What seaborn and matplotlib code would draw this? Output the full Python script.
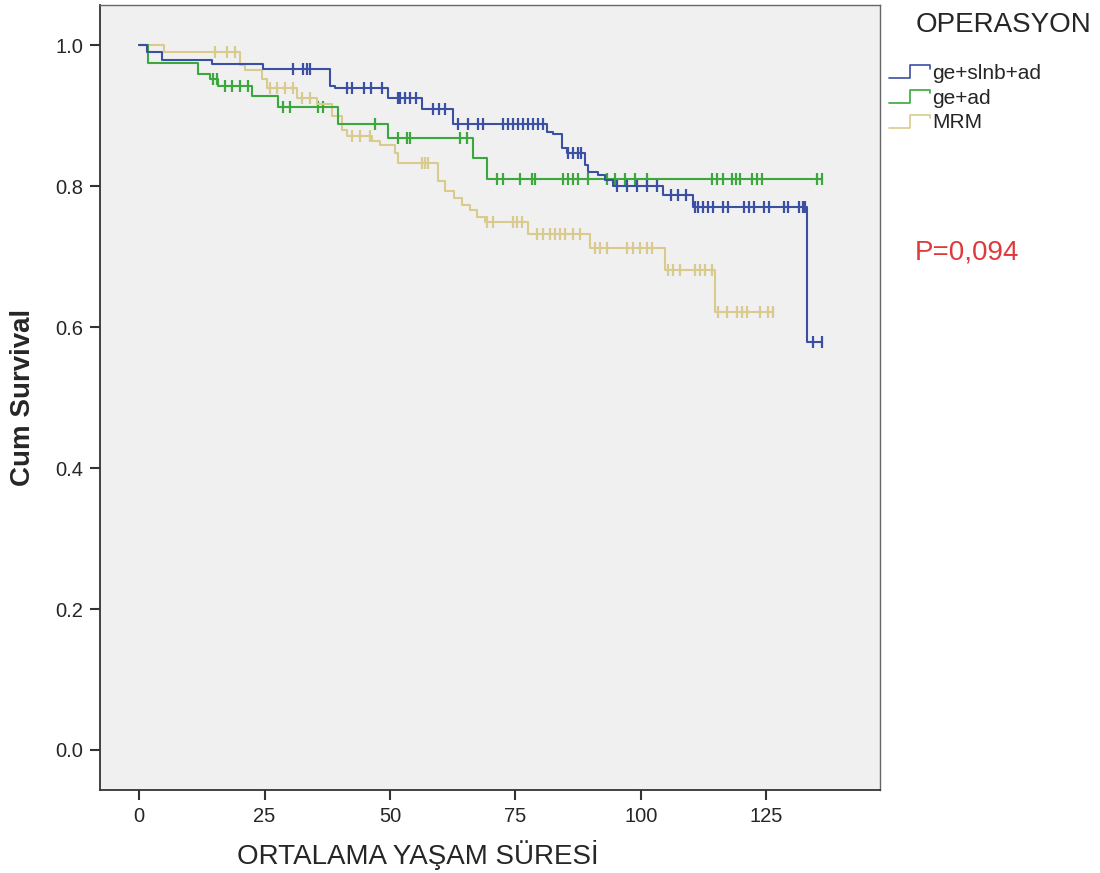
import numpy as np
import pandas as pd
import matplotlib
matplotlib.use("Agg")
import matplotlib.pyplot as plt
from matplotlib.lines import Line2D
from matplotlib.legend_handler import HandlerBase
import seaborn as sns

# step curves (time of drop, survival after drop) and censored times
groups = ["ge+slnb+ad", "ge+ad", "MRM"]

blue_t = [1.6, 4.6, 14.6, 24.7, 38.1, 39.1, 49.6, 56.4, 62.6, 81.3, 82.5, 84.3, 85.3, 88.9, 89.5, 91.5, 92.9, 94.5, 104.5, 110.4, 133.2]
blue_s = [0.99, 0.979, 0.973, 0.967, 0.943, 0.939, 0.925, 0.91, 0.889, 0.877, 0.874, 0.854, 0.847, 0.83, 0.82, 0.816, 0.809, 0.801, 0.787, 0.77, 0.579]
blue_c = [30.7, 32.7, 33.5, 34.0, 41.5, 42.5, 44.8, 46.2, 48.4, 51.5, 51.9, 53.0, 54.0, 55.2, 58.6, 59.8, 61.0, 63.5, 65.5, 67.5, 68.5,
          72.6, 73.6, 74.6, 75.6, 76.6, 77.6, 78.5, 79.6, 80.5, 85.5, 86.5, 87.5, 88.0, 95.3, 97.3, 99.3, 101.3, 103.3,
          106.0, 107.5, 109.0, 110.8, 111.4, 112.4, 113.4, 114.4, 116.3, 117.4, 120.5, 121.5, 122.5, 124.5, 125.5, 128.5, 129.3,
          131.5, 132.3, 132.8, 134.4, 136.2]

green_t = [1.8, 11.8, 14.2, 15.7, 22.5, 27.7, 39.7, 49.6, 66.6, 69.4]
green_s = [0.975, 0.959, 0.953, 0.943, 0.928, 0.912, 0.888, 0.868, 0.84, 0.811]
green_c = [14.8, 15.5, 17.1, 18.5, 20.1, 21.7, 28.7, 30.1, 35.7, 36.7, 47.0, 51.6, 53.4, 54.0, 64.0, 65.4, 71.4, 72.6, 76.0,
           78.3, 79.0, 84.5, 85.5, 86.5, 87.5, 89.5, 93.3, 94.9, 96.9, 98.9, 101.3, 114.2, 115.2, 116.4, 118.2, 119.0,
           119.8, 122.2, 123.2, 124.2, 135.2, 136.2]

mrm_t = [5.0, 20.0, 21.0, 24.5, 25.5, 31.5, 35.5, 38.5, 40.5, 41.5, 46.5, 48.0, 51.0, 51.6, 59.5, 61.0, 62.7, 64.4, 66.0,
         67.4, 69.0, 77.6, 89.9, 104.9, 114.8]
mrm_s = [0.99, 0.972, 0.965, 0.953, 0.94, 0.926, 0.917, 0.90, 0.88, 0.872, 0.865, 0.858, 0.847, 0.833, 0.808, 0.794,
         0.783, 0.773, 0.766, 0.756, 0.75, 0.733, 0.712, 0.681, 0.621]
mrm_c = [15.2, 17.5, 19.0, 26.1, 27.5, 29.0, 30.7, 32.5, 34.0, 42.5, 44.0, 46.0, 56.4, 57.0, 57.6, 69.4, 70.6, 74.6, 75.4,
         76.4, 79.3, 80.5, 81.9, 82.9, 83.9, 84.9, 86.5, 87.9, 90.9, 91.9, 93.3, 97.3, 98.5, 99.9, 101.3, 102.3,
         105.5, 106.5, 107.8, 110.8, 111.8, 112.8, 114.2, 115.4, 117.2, 119.2, 120.2, 121.2, 123.8, 125.4, 126.4]

steps = {"ge+slnb+ad": (blue_t, blue_s, blue_c),
         "ge+ad": (green_t, green_s, green_c),
         "MRM": (mrm_t, mrm_s, mrm_c)}
colors = {"ge+slnb+ad": "#3b4fa3", "ge+ad": "#3aa83c", "MRM": "#d9cb8e"}

line_rows, cens_rows = [], []
for g in groups:
    t, s, c = steps[g]
    tt = np.array([0.0] + t + [max(c)])
    ss = np.array([1.0] + s + [s[-1]])
    for a, b in zip(tt, ss):
        line_rows.append((g, a, b))
    idx = np.searchsorted(tt, c, side="right") - 1
    for a, b in zip(c, ss[idx]):
        cens_rows.append((g, a, b))
lines = pd.DataFrame(line_rows, columns=["grp", "t", "S"])
cens = pd.DataFrame(cens_rows, columns=["grp", "t", "S"])


class StepHandler(HandlerBase):
    # little step icon like the SPSS legend
    def create_artists(self, legend, orig_handle, xdescent, ydescent, width, height, fontsize, trans):
        x0 = -xdescent
        y0 = -ydescent
        xs = [x0, x0 + width * 0.5, x0 + width * 0.5, x0 + width, x0 + width]
        ys = [y0 + height * 0.05, y0 + height * 0.05, y0 + height * 0.95, y0 + height * 0.95, y0 + height * 0.7]
        ln = Line2D(xs, ys, color=orig_handle.get_color(), linewidth=1.2)
        ln.set_transform(trans)
        return [ln]


sns.set_style("white")
plt.rcParams["font.family"] = ["Liberation Sans", "DejaVu Sans"]

fig = plt.figure(figsize=(11, 8.73), dpi=100)
ax = fig.add_axes([0.091, 0.095, 0.709, 0.899])
ax.set_facecolor("#f0f0f0")

# draw MRM first so the others sit on top, as in the picture
for g in ["MRM", "ge+ad", "ge+slnb+ad"]:
    sns.lineplot(data=lines[lines.grp == g], x="t", y="S", color=colors[g], drawstyle="steps-post",
                 estimator=None, sort=False, linewidth=1.5, ax=ax, legend=False)
    sns.scatterplot(data=cens[cens.grp == g], x="t", y="S", color=colors[g], marker="|", s=80,
                    linewidth=1.6, ax=ax, legend=False)

ax.set_xlim(-7.8, 147.7)
ax.set_ylim(-0.057, 1.057)
ax.set_xticks([0, 25, 50, 75, 100, 125])
ax.set_yticks([0.0, 0.2, 0.4, 0.6, 0.8, 1.0])
ax.set_yticklabels(["0.0", "0.2", "0.4", "0.6", "0.8", "1.0"])
ax.tick_params(axis="both", bottom=True, left=True, direction="out", length=7, width=1.5,
               color="#333333", labelsize=14.5, pad=5)
for sp in ax.spines.values():
    sp.set_color("#666666")
    sp.set_linewidth(1.0)
ax.spines["left"].set_color("#333333")
ax.spines["bottom"].set_color("#333333")
ax.spines["left"].set_linewidth(1.3)
ax.spines["bottom"].set_linewidth(1.3)

ax.set_xlabel("ORTALAMA YAŞAM SÜRESİ", fontsize=20)
ax.xaxis.set_label_coords(0.408, -0.064)
ax.set_ylabel("Cum Survival", fontsize=20, fontweight="bold")
ax.yaxis.set_label_coords(-0.082, 0.5)

handles = [Line2D([], [], color=colors[g]) for g in groups]
fig.text(0.832, 0.971, "OPERASYON", fontsize=20, va="center", ha="left")
fig.legend(handles, groups, loc="upper left", bbox_to_anchor=(0.808, 0.927),
           handler_map={Line2D: StepHandler()}, frameon=False, fontsize=15,
           handlelength=2.0, handleheight=0.7, handletextpad=0.1, labelspacing=0.28, borderaxespad=0,
           borderpad=0)

fig.text(0.832, 0.711, "P=0,094", color="#e0393b", fontsize=20, va="center")

fig.savefig("out.png", dpi=100)
